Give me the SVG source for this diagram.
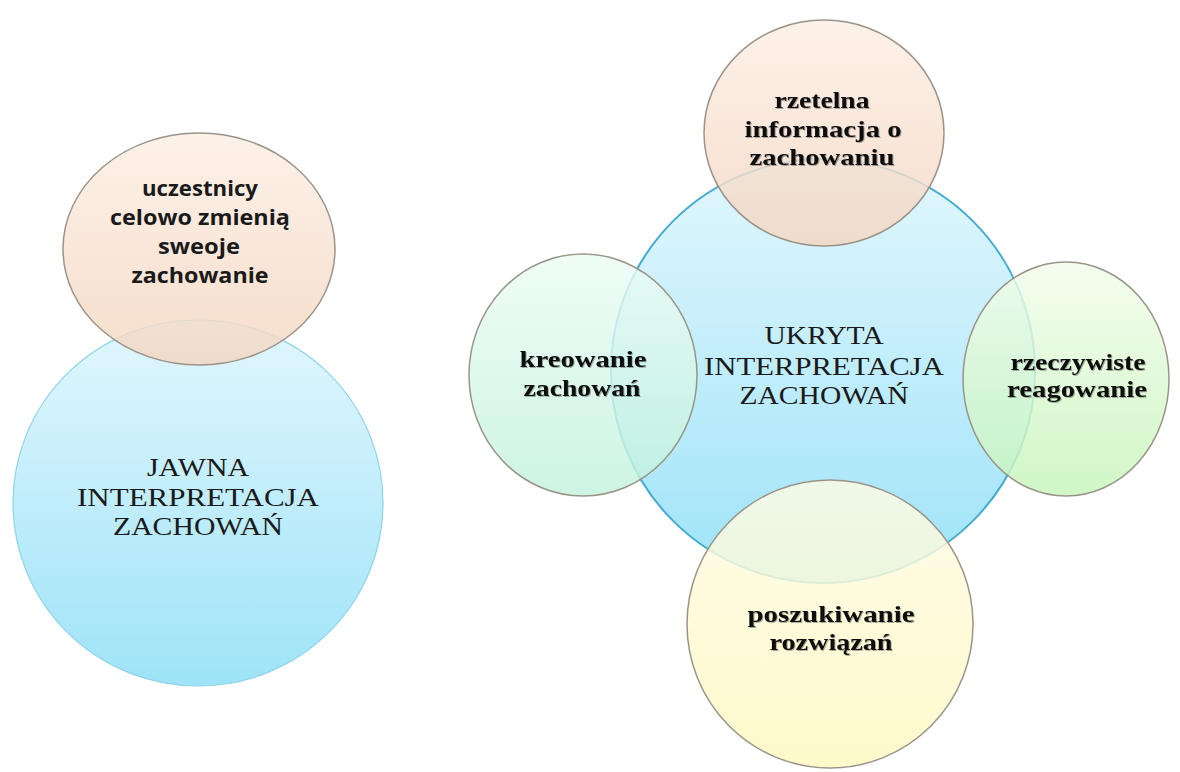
<svg xmlns="http://www.w3.org/2000/svg" width="1180" height="772" viewBox="0 0 1180 772">
  <defs>
    <linearGradient id="gBlue" x1="0" y1="0" x2="0" y2="1">
      <stop offset="0" stop-color="#e2f7fd"/>
      <stop offset="1" stop-color="#9ee3f8"/>
    </linearGradient>
    <linearGradient id="gPeach" x1="0" y1="0" x2="0" y2="1">
      <stop offset="0" stop-color="#fdeee4"/>
      <stop offset="1" stop-color="#f3d6c0"/>
    </linearGradient>
    <linearGradient id="gGreenL" x1="0" y1="0" x2="0" y2="1">
      <stop offset="0" stop-color="#ecfcf5"/>
      <stop offset="1" stop-color="#c2f2dd"/>
    </linearGradient>
    <linearGradient id="gGreenR" x1="0" y1="0" x2="0" y2="1">
      <stop offset="0" stop-color="#f2fdeb"/>
      <stop offset="1" stop-color="#c6f5ba"/>
    </linearGradient>
    <linearGradient id="gYellow" x1="0" y1="0" x2="0" y2="1">
      <stop offset="0" stop-color="#fffce6"/>
      <stop offset="1" stop-color="#fdf8bf"/>
    </linearGradient>
    <filter id="shadow" x="-10%" y="-20%" width="120%" height="140%">
      <feDropShadow dx="1" dy="1" stdDeviation="0.6" flood-color="#000" flood-opacity="0.3"/>
    </filter>
  </defs>
  <style>
    .blue { fill: url(#gBlue); stroke: #45abcf; stroke-width: 2; }
    .blueL { fill: url(#gBlue); stroke: #8fd3e8; stroke-width: 1.2; }
    .sat { fill-opacity: 0.82; stroke: #9a9488; stroke-width: 1.5; }
    .peach { fill: url(#gPeach); }
    .greenL { fill: url(#gGreenL); }
    .greenR { fill: url(#gGreenR); }
    .yellow { fill: url(#gYellow); }
    .sans { font-family: "Open Sans", "Liberation Sans", sans-serif; font-weight: bold; font-size: 22px; fill: #1a1a1a; text-anchor: middle; }
    .cap { font-family: "Liberation Serif", serif; font-size: 26px; fill: #1a1a1a; text-anchor: middle; }
    .bs { font-family: "Liberation Serif", serif; font-weight: bold; font-size: 24px; fill: #111; text-anchor: middle; filter: url(#shadow); }
  </style>

  <g id="jawna">
    <ellipse class="blueL" cx="198" cy="503" rx="185" ry="183"/>
  </g>
  <g id="uczestnicy">
    <ellipse class="sat peach" cx="199" cy="249" rx="136" ry="116"/>
  </g>

  <g id="ukryta">
    <circle class="blue" cx="823" cy="371" r="212"/>
  </g>
  <g id="rzetelna">
    <ellipse class="sat peach" cx="824" cy="133" rx="120" ry="113"/>
  </g>
  <g id="kreowanie">
    <ellipse class="sat greenL" cx="583" cy="375" rx="114" ry="121"/>
  </g>
  <g id="rzeczywiste">
    <ellipse class="sat greenR" cx="1066" cy="379" rx="103" ry="117"/>
  </g>
  <g id="poszukiwanie">
    <ellipse class="sat yellow" cx="830" cy="624" rx="143" ry="144"/>
  </g>

  <g id="connectors"></g>

  <g id="labels">
    <text class="sans" x="200" y="196" textLength="116" lengthAdjust="spacingAndGlyphs">uczestnicy</text>
    <text class="sans" x="200" y="225" textLength="180" lengthAdjust="spacingAndGlyphs">celowo zmienią</text>
    <text class="sans" x="199" y="254" textLength="82" lengthAdjust="spacingAndGlyphs">sweoje</text>
    <text class="sans" x="200" y="283" textLength="137" lengthAdjust="spacingAndGlyphs">zachowanie</text>

    <text class="cap" x="198" y="476" textLength="102" lengthAdjust="spacingAndGlyphs">JAWNA</text>
    <text class="cap" x="198" y="506" textLength="242" lengthAdjust="spacingAndGlyphs">INTERPRETACJA</text>
    <text class="cap" x="198" y="535" textLength="170" lengthAdjust="spacingAndGlyphs">ZACHOWAŃ</text>

    <text class="cap" x="824" y="344" textLength="119" lengthAdjust="spacingAndGlyphs">UKRYTA</text>
    <text class="cap" x="824" y="375" textLength="240" lengthAdjust="spacingAndGlyphs">INTERPRETACJA</text>
    <text class="cap" x="824" y="404" textLength="169" lengthAdjust="spacingAndGlyphs">ZACHOWAŃ</text>

    <text class="bs" x="822" y="108" textLength="95" lengthAdjust="spacingAndGlyphs">rzetelna</text>
    <text class="bs" x="823" y="137" textLength="157" lengthAdjust="spacingAndGlyphs">informacja o</text>
    <text class="bs" x="822" y="165" textLength="145" lengthAdjust="spacingAndGlyphs">zachowaniu</text>

    <text class="bs" x="583" y="367" textLength="127" lengthAdjust="spacingAndGlyphs">kreowanie</text>
    <text class="bs" x="582" y="396" textLength="117" lengthAdjust="spacingAndGlyphs">zachowań</text>

    <text class="bs" x="1078" y="370" textLength="135" lengthAdjust="spacingAndGlyphs">rzeczywiste</text>
    <text class="bs" x="1077" y="397" textLength="140" lengthAdjust="spacingAndGlyphs">reagowanie</text>

    <text class="bs" x="831" y="622" textLength="167" lengthAdjust="spacingAndGlyphs">poszukiwanie</text>
    <text class="bs" x="831" y="650" textLength="123" lengthAdjust="spacingAndGlyphs">rozwiązań</text>
  </g>
</svg>
